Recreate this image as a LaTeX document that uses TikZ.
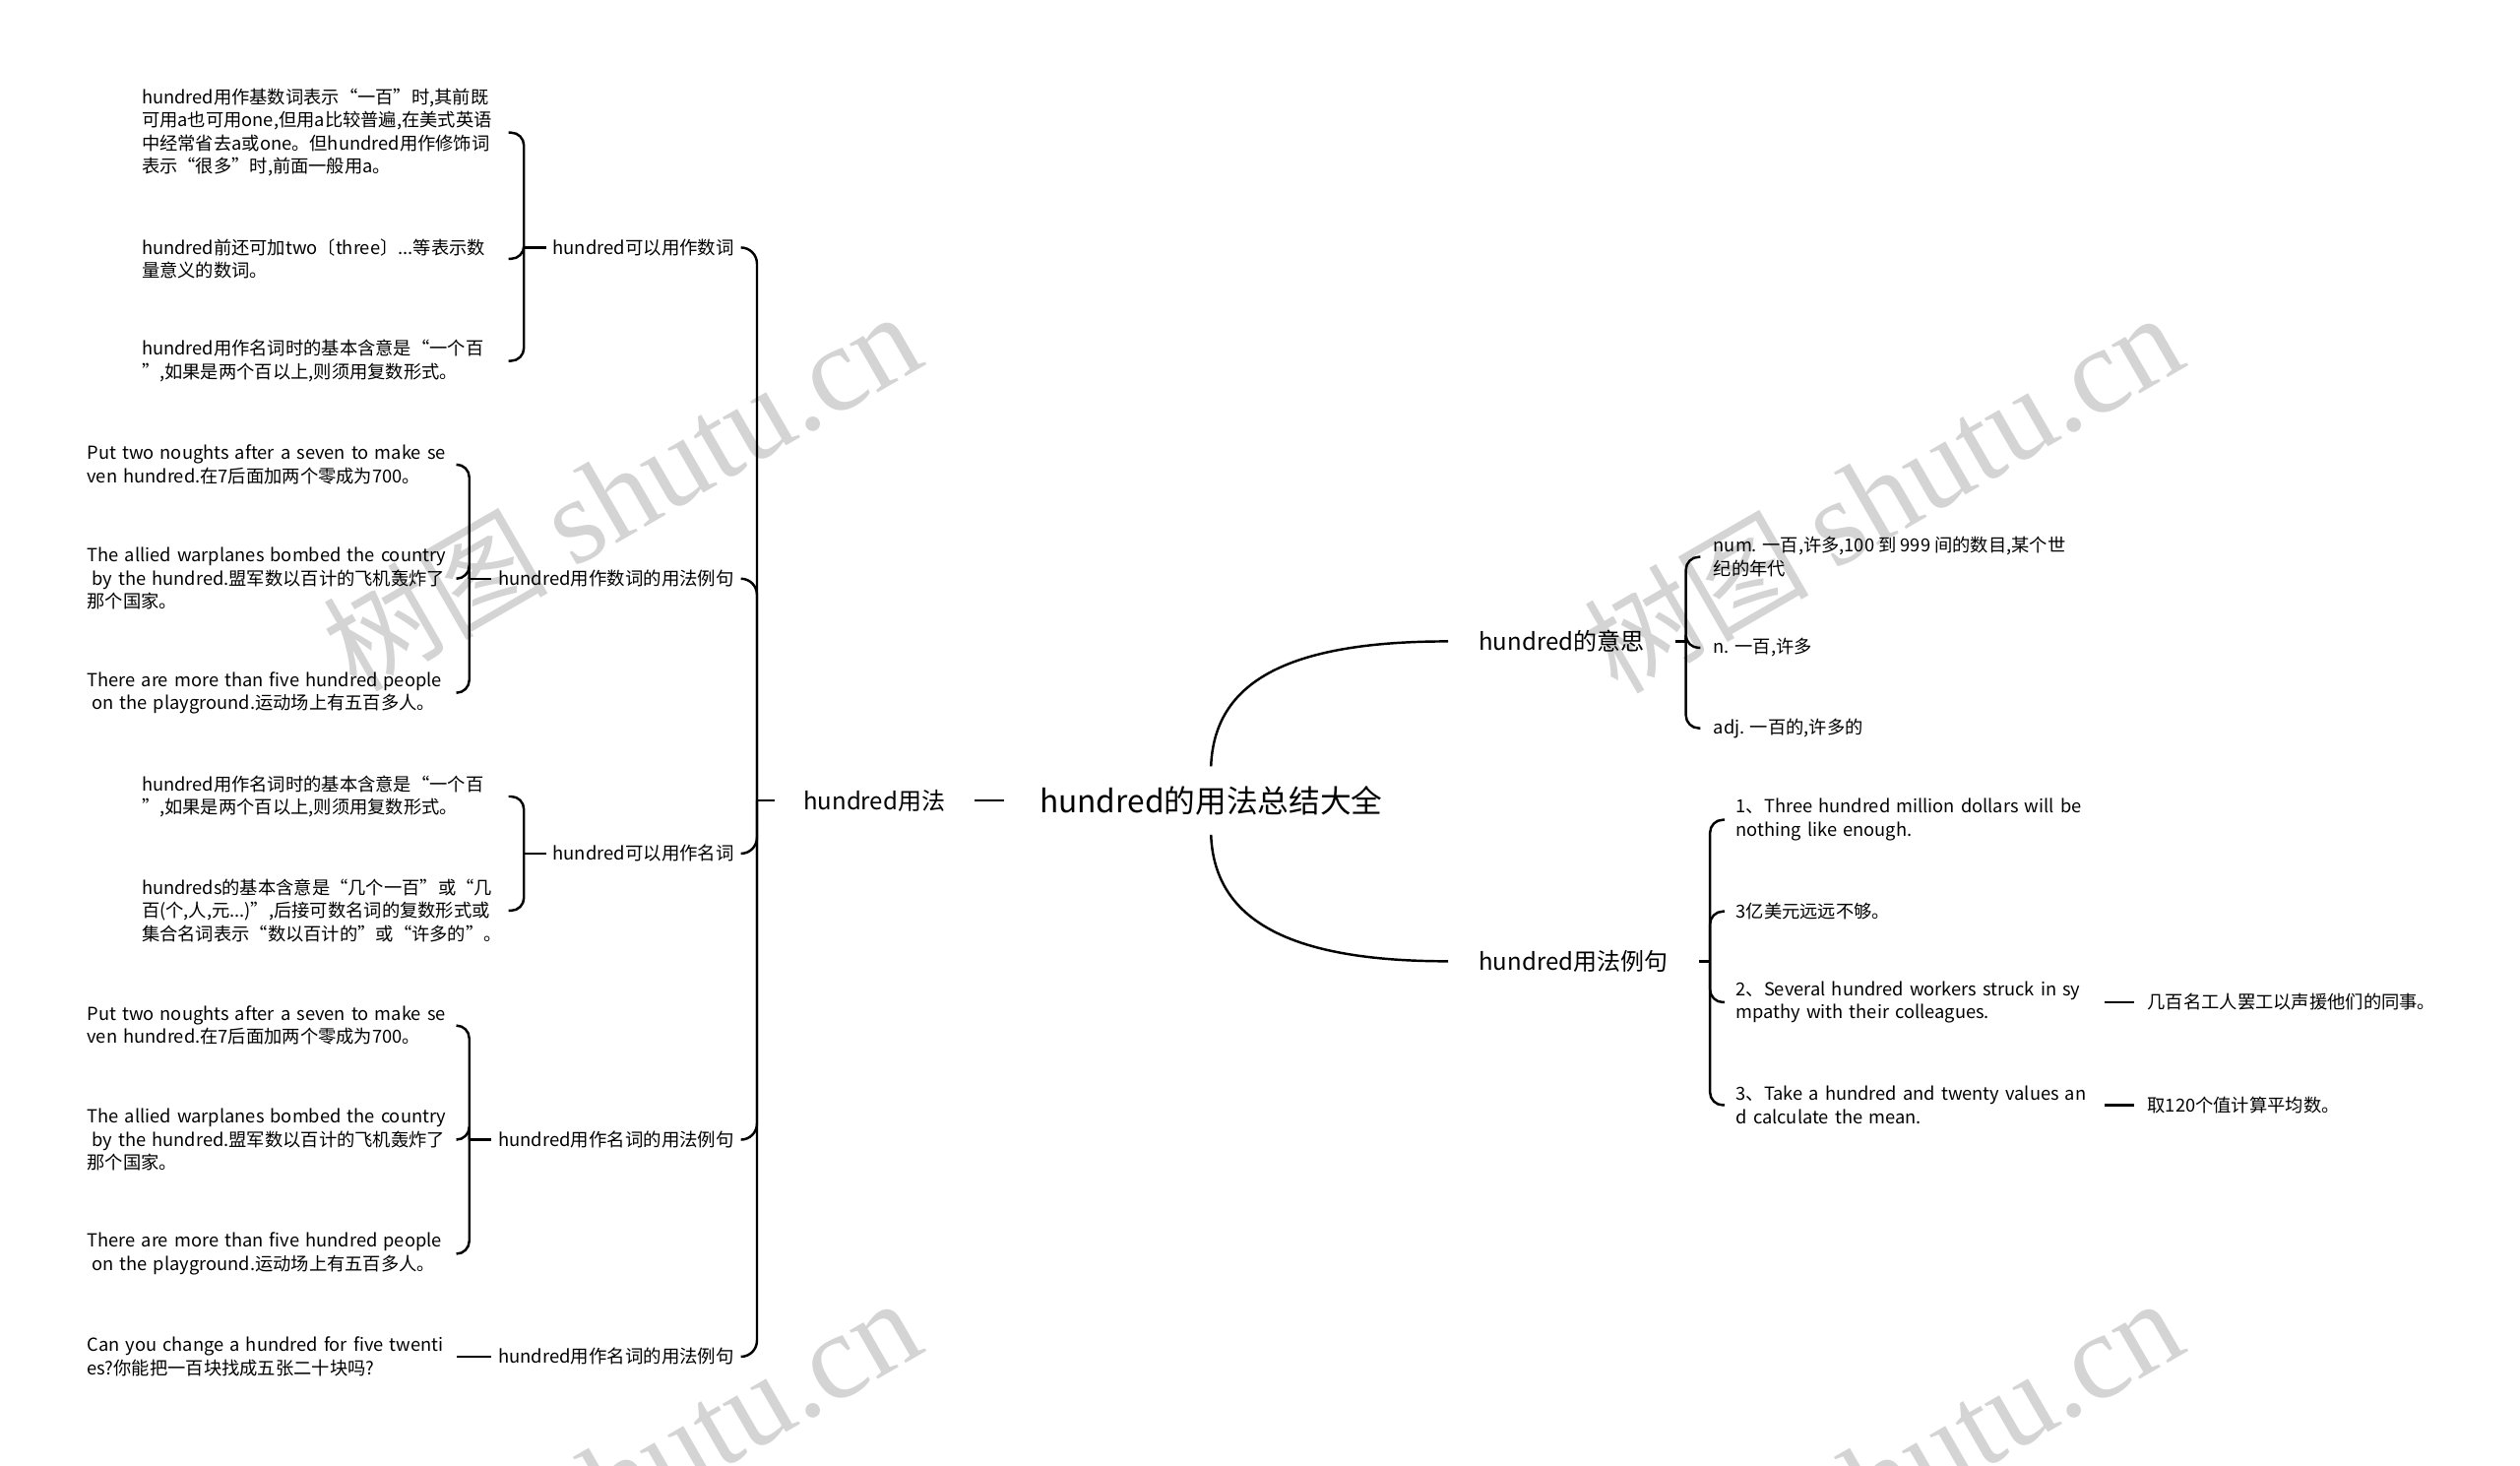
\documentclass[tikz,border=0pt]{standalone}
\usepackage{fontspec}
\setmainfont{Noto Sans CJK SC}
\newfontfamily\wmlatin{Liberation Serif}
\begin{document}
\begin{tikzpicture}[x=1pt,y=-1pt,
  every node/.style={text=black},
  line/.style={line width=1.5pt, draw=black},
  brace/.style={line, rounded corners=8pt},
  rootnode/.style={font=\fontsize{19.4}{23}\selectfont, inner xsep=22pt, inner ysep=12pt},
  lvlone/.style={font=\fontsize{14.7}{18}\selectfont, inner xsep=18pt, inner ysep=4pt},
  lvltwo/.style={font=\fontsize{11.3}{14.4}\selectfont, inner xsep=4pt, inner ysep=3pt},
  leaf/.style={font=\fontsize{11.2}{14.4}\selectfont, align=left, inner xsep=0pt, inner ysep=2pt},
  wm/.style={text=black!17, rotate=30, anchor=base east, inner sep=0pt}
]
\fill[white] (0,0) rectangle (1568,912);
\useasboundingbox (0,0) rectangle (1568,912);
\clip (0,0) rectangle (1568,912);

% watermarks
\node[wm] (wm1) at (578,226) {\fontsize{70}{70}\selectfont 树图\ {\wmlatin\fontsize{76}{76}\selectfont shutu.cn}};
\node[wm] (wm2) at (1363,227) {\fontsize{70}{70}\selectfont 树图\ {\wmlatin\fontsize{76}{76}\selectfont shutu.cn}};
\node[wm] (wm3) at (578,840) {\fontsize{70}{70}\selectfont 树图\ {\wmlatin\fontsize{76}{76}\selectfont shutu.cn}};
\node[wm] (wm4) at (1363,840) {\fontsize{70}{70}\selectfont 树图\ {\wmlatin\fontsize{76}{76}\selectfont shutu.cn}};

% root and level 1
\node[rootnode] (root) at (753.5,498) {hundred的用法总结大全};
\node[lvlone] (usage) at (544,498) {hundred用法};
\node[lvlone, inner xsep=19pt, anchor=west] (meaning) at (901,399) {hundred的意思};
\node[lvlone, inner xsep=19pt, anchor=west] (examples) at (901,598) {hundred用法例句};

\draw[line] (root.west) -- (usage.east);
\draw[line] (root.north) .. controls +(2,-52) and +(-101,0) .. (meaning.west);
\draw[line] (root.south) .. controls +(2,52) and +(-101,0) .. (examples.west);

% level 2 (left)
\node[lvltwo, anchor=east] (n1) at (461,154) {hundred可以用作数词};
\node[lvltwo, anchor=east] (n2) at (461,360) {hundred用作数词的用法例句};
\node[lvltwo, anchor=east] (n3) at (461,531) {hundred可以用作名词};
\node[lvltwo, anchor=east] (n4) at (461,709) {hundred用作名词的用法例句};
\node[lvltwo, anchor=east] (n5) at (461,844) {hundred用作名词的用法例句};

\coordinate (J0) at (471,498);
\draw[line] (usage.west) -- (J0);
\draw[brace, rounded corners=10pt] (J0) |- (n1.east);
\draw[brace, rounded corners=10pt] (J0) |- (n2.east);
\draw[brace, rounded corners=10pt] (J0) |- (n3.east);
\draw[brace, rounded corners=10pt] (J0) |- (n4.east);
\draw[brace, rounded corners=10pt] (J0) |- (n5.east);

% group 1
\node[leaf, text width=228pt, anchor=west] (l1a) at (88,82.5) {hundred用作基数词表示“一百”时,其前既\\可用a也可用one,但用a比较普遍,在美式英语\\中经常省去a或one。但hundred用作修饰词\\表示“很多”时,前面一般用a。};
\node[leaf, text width=228pt, anchor=west] (l1b) at (88,161) {hundred前还可加two〔three〕...等表示数\\量意义的数词。};
\node[leaf, text width=228pt, anchor=west] (l1c) at (88,224.5) {hundred用作名词时的基本含意是“一个百\\”,如果是两个百以上,则须用复数形式。};
\coordinate (J1) at (326,154);
\draw[line] (n1.west) -- (J1);
\draw[brace] (J1) |- (l1a.east);
\draw[brace] (J1) |- (l1b.east);
\draw[brace] (J1) |- (l1c.east);

% group 2
\node[leaf, text width=230pt, anchor=west] (l2a) at (54,289) {Put two noughts after a seven to make se\\ven hundred.在7后面加两个零成为700。};
\node[leaf, text width=230pt, anchor=west] (l2b) at (54,360) {The allied warplanes bombed the country\\\hspace*{3pt}by the hundred.盟军数以百计的飞机轰炸了\\那个国家。};
\node[leaf, text width=230pt, anchor=west] (l2c) at (54,431) {There are more than five hundred people\\\hspace*{3pt}on the playground.运动场上有五百多人。};
\coordinate (J2) at (292,360);
\draw[line] (n2.west) -- (J2);
\draw[brace] (J2) |- (l2a.east);
\draw[brace] (J2) |- (l2b.east);
\draw[brace] (J2) |- (l2c.east);

% group 3
\node[leaf, text width=228pt, anchor=west] (l3a) at (88,495.5) {hundred用作名词时的基本含意是“一个百\\”,如果是两个百以上,则须用复数形式。};
\node[leaf, text width=228pt, anchor=west] (l3b) at (88,566.5) {hundreds的基本含意是“几个一百”或“几\\百(个,人,元...)”,后接可数名词的复数形式或\\集合名词表示“数以百计的”或“许多的”。};
\coordinate (J3) at (326,531);
\draw[line] (n3.west) -- (J3);
\draw[brace] (J3) |- (l3a.east);
\draw[brace] (J3) |- (l3b.east);

% group 4
\node[leaf, text width=230pt, anchor=west] (l4a) at (54,638) {Put two noughts after a seven to make se\\ven hundred.在7后面加两个零成为700。};
\node[leaf, text width=230pt, anchor=west] (l4b) at (54,709) {The allied warplanes bombed the country\\\hspace*{3pt}by the hundred.盟军数以百计的飞机轰炸了\\那个国家。};
\node[leaf, text width=230pt, anchor=west] (l4c) at (54,780) {There are more than five hundred people\\\hspace*{3pt}on the playground.运动场上有五百多人。};
\coordinate (J4) at (292,709);
\draw[line] (n4.west) -- (J4);
\draw[brace] (J4) |- (l4a.east);
\draw[brace] (J4) |- (l4b.east);
\draw[brace] (J4) |- (l4c.east);

% group 5
\node[leaf, text width=230pt, anchor=west] (l5) at (54,844) {Can you change a hundred for five twenti\\es?你能把一百块找成五张二十块吗?};
\draw[line] (n5.west) -- (l5.east);

% right: meaning
\node[leaf, anchor=west, inner xsep=8pt] (m1) at (1058,346.5) {num. 一百,许多,100 到 999 间的数目,某个世\\纪的年代};
\node[leaf, anchor=west, inner xsep=8pt] (m2) at (1058,403) {n. 一百,许多};
\node[leaf, anchor=west, inner xsep=8pt] (m3) at (1058,453) {adj. 一百的,许多的};
\coordinate (J6) at (1049,399);
\draw[line] (meaning.east) -- (J6);
\draw[brace] (J6) |- (m1.west);
\draw[brace] (J6) |- (m2.west);
\draw[brace] (J6) |- (m3.west);

% right: examples
\node[leaf, anchor=west, inner xsep=7pt, text width=222pt] (e1) at (1073,510) {1、Three hundred million dollars will be\\nothing like enough.};
\node[leaf, anchor=west, inner xsep=7pt, text width=222pt] (e2) at (1073,567) {3亿美元远远不够。};
\node[leaf, anchor=west, inner xsep=7pt, text width=222pt] (e3) at (1073,623.5) {2、Several hundred workers struck in sy\\mpathy with their colleagues.};
\node[leaf, anchor=west, inner xsep=7pt, text width=222pt] (e4) at (1073,687.5) {3、Take a hundred and twenty values an\\d calculate the mean.};
\coordinate (J7) at (1064,598);
\draw[line] (examples.east) -- (J7);
\draw[brace] (J7) |- (e1.west);
\draw[brace] (J7) |- (e2.west);
\draw[brace] (J7) |- (e3.west);
\draw[brace] (J7) |- (e4.west);

\node[leaf, anchor=west, inner xsep=8pt] (g3) at (1328,623.5) {几百名工人罢工以声援他们的同事。};
\node[leaf, anchor=west, inner xsep=8pt] (g4) at (1328,687.5) {取120个值计算平均数。};
\draw[line] (e3.east) -- (g3.west);
\draw[line] (e4.east) -- (g4.west);
\end{tikzpicture}
\end{document}
